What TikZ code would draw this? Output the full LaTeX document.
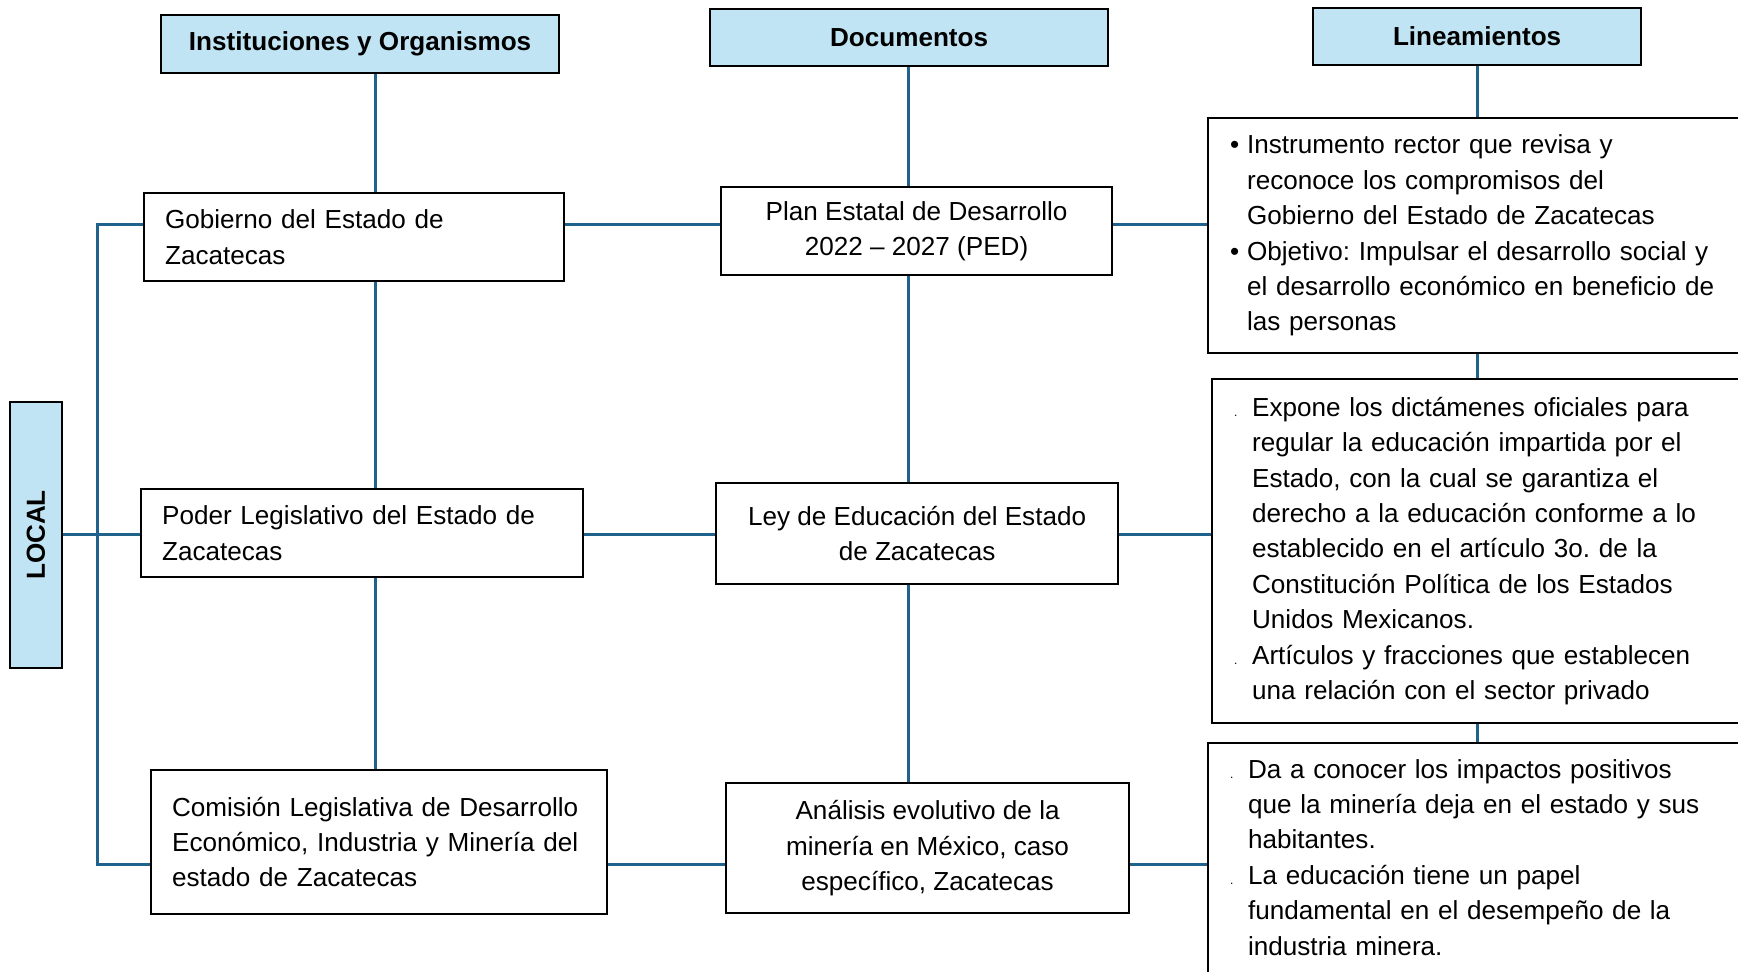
\documentclass[tikz,border=0pt]{standalone}
\usepackage{fontspec}
\setmainfont{Liberation Sans}
\frenchspacing
\definecolor{azulclaro}{RGB}{192,228,243}
\definecolor{azullinea}{RGB}{31,99,140}
\newcommand{\texto}{\fontsize{13.05}{17.7}\selectfont}
\newcommand{\vin}{\makebox[8.5pt][l]{•}}
\newcommand{\pto}{\makebox[9pt][l]{\fontsize{6}{6}\selectfont .}}

\begin{document}
\begin{tikzpicture}[x=0.5pt,y=-0.5pt,
	caja/.style={draw, line width=1.1pt, fill=white, font=\texto, anchor=north west},
	titulo/.style={caja, fill=azulclaro, font=\texto\bfseries},
	izq/.style={align=left, inner xsep=10.5pt},
	centro/.style={align=center},
	linea/.style={azullinea, line width=1.5pt}]
  \useasboundingbox (0,0) rectangle (1738,972);
  \clip (0,0) rectangle (1738,972);

  % Encabezados
  \node[titulo, minimum width=199pt, minimum height=29pt] (hinst) at (160,14) {Instituciones y Organismos};
  \node[titulo, minimum width=199pt, minimum height=28.5pt] (hdoc) at (709,8) {Documentos};
  \node[titulo, minimum width=164pt, minimum height=28.5pt] (hlin) at (1312,7) {Lineamientos};
  \node[titulo, anchor=center, rotate=90, minimum width=133pt, minimum height=26pt] (local) at (36,535) {LOCAL};

  % Instituciones
  \node[caja, izq, text width=189pt, minimum height=44pt] (gob) at (143,192)
    {Gobierno del Estado de\\ Zacatecas};
  \node[caja, izq, text width=200pt, minimum height=44pt] (poder) at (140,488)
    {Poder Legislativo del Estado de\\ Zacatecas};
  \node[caja, izq, text width=207pt, minimum height=72pt] (com) at (150,769)
    {Comisión Legislativa de Desarrollo\\ Económico, Industria y Minería del\\ estado de Zacatecas};

  % Documentos
  \node[caja, centro, minimum width=195.5pt, minimum height=44pt] (plan) at (720,186)
    {Plan Estatal de Desarrollo\\ 2022 – 2027 (PED)};
  \node[caja, centro, minimum width=201pt, minimum height=50.5pt] (ley) at (715,482)
    {Ley de Educación del Estado\\ de Zacatecas};
  \node[caja, centro, minimum width=201.5pt, minimum height=65pt] (ana) at (725,782)
    {Análisis evolutivo de la\\ minería en México, caso\\ específico, Zacatecas};

  % Lineamientos
  \node[caja, align=left, inner xsep=11pt, text width=278pt, minimum height=117.5pt] (lin1) at (1207,117)
    {\vin Instrumento rector que revisa y\\
     \hspace*{8.5pt}reconoce los compromisos del\\
     \hspace*{8.5pt}Gobierno del Estado de Zacatecas\\
     \vin Objetivo: Impulsar el desarrollo social y\\
     \hspace*{8.5pt}el desarrollo económico en beneficio de\\
     \hspace*{8.5pt}las personas};
  \node[caja, align=left, inner xsep=11pt, text width=278pt, minimum height=172pt] (lin2) at (1211,378)
    {\pto Expone los dictámenes oficiales para\\
     \hspace*{9pt}regular la educación impartida por el\\
     \hspace*{9pt}Estado, con la cual se garantiza el\\
     \hspace*{9pt}derecho a la educación conforme a lo\\
     \hspace*{9pt}establecido en el artículo 3o. de la\\
     \hspace*{9pt}Constitución Política de los Estados\\
     \hspace*{9pt}Unidos Mexicanos.\\
     \pto Artículos y fracciones que establecen\\
     \hspace*{9pt}una relación con el sector privado};
  \node[caja, align=left, inner xsep=11pt, text width=278pt, minimum height=120pt] (lin3) at (1207,742)
    {\pto Da a conocer los impactos positivos\\
     \hspace*{9pt}que la minería deja en el estado y sus\\
     \hspace*{9pt}habitantes.\\
     \pto La educación tiene un papel\\
     \hspace*{9pt}fundamental en el desempeño de la\\
     \hspace*{9pt}industria minera.\rule[-6pt]{0pt}{6pt}};

  % Ejes de las lineas
  \coordinate (bus) at (97,0);
  \coordinate (col1) at (375,0);
  \coordinate (col2) at (908,0);
  \coordinate (col3) at (1477,0);
  \coordinate (fila1) at (0,225);
  \coordinate (fila2) at (0,534);
  \coordinate (fila3) at (0,864);

  % Lineas verticales
  \draw[linea] (hinst.south -| col1) -- (gob.north -| col1);
  \draw[linea] (gob.south -| col1) -- (poder.north -| col1);
  \draw[linea] (poder.south -| col1) -- (com.north -| col1);
  \draw[linea] (hdoc.south -| col2) -- (plan.north -| col2);
  \draw[linea] (plan.south -| col2) -- (ley.north -| col2);
  \draw[linea] (ley.south -| col2) -- (ana.north -| col2);
  \draw[linea] (hlin.south -| col3) -- (lin1.north -| col3);
  \draw[linea] (lin1.south -| col3) -- (lin2.north -| col3);
  \draw[linea] (lin2.south -| col3) -- (lin3.north -| col3);

  % Lineas horizontales
  \draw[linea] (gob.west |- fila1) -- (bus |- fila1) -- (bus |- fila3) -- (com.west |- fila3);
  \draw[linea] (local.south |- fila2) -- (poder.west |- fila2);
  \draw[linea] (gob.east |- fila1) -- (plan.west |- fila1);
  \draw[linea] (poder.east |- fila2) -- (ley.west |- fila2);
  \draw[linea] (com.east |- fila3) -- (ana.west |- fila3);
  \draw[linea] (plan.east |- fila1) -- (lin1.west |- fila1);
  \draw[linea] (ley.east |- fila2) -- (lin2.west |- fila2);
  \draw[linea] (ana.east |- fila3) -- (lin3.west |- fila3);
\end{tikzpicture}
\end{document}
